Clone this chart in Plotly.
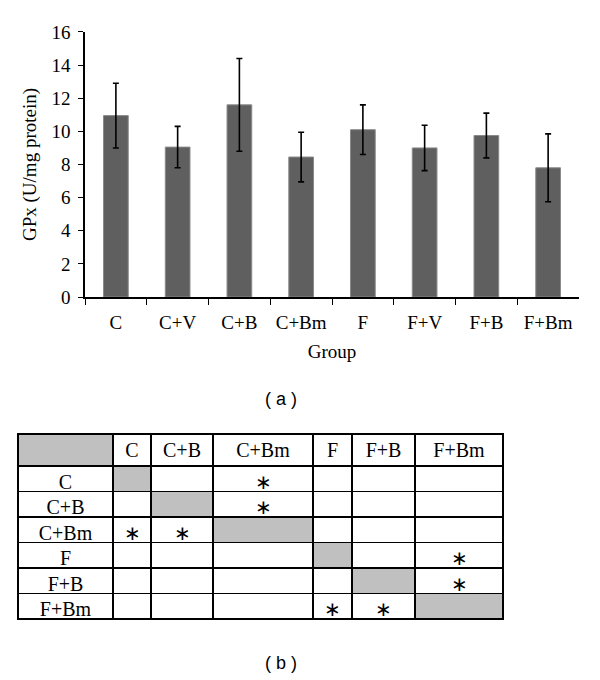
import plotly.graph_objects as go

# panel (a): GPx activity per group
groups = ["C", "C+V", "C+B", "C+Bm", "F", "F+V", "F+B", "F+Bm"]
gpx_mean = [10.95, 9.05, 11.6, 8.45, 10.1, 9.0, 9.75, 7.8]
gpx_sd = [1.95, 1.25, 2.8, 1.5, 1.5, 1.37, 1.35, 2.05]
y_ticks = [0, 2, 4, 6, 8, 10, 12, 14, 16]

# panel (b): significance table
tbl_groups = ["C", "C+B", "C+Bm", "F", "F+B", "F+Bm"]
sig_pairs = [("C", "C+Bm"), ("C+B", "C+Bm"), ("F", "F+Bm"), ("F+B", "F+Bm")]

serif = "Liberation Serif, Times New Roman, serif"
sans = "Liberation Sans, Arial, sans-serif"
gray_cell = "#c0c0c0"

fig = go.Figure()

fig.add_trace(go.Bar(
    x=groups, y=gpx_mean,
    marker=dict(color="#5f5f5f", line=dict(color="#8a8a8a", width=1)),
    error_y=dict(type="data", array=gpx_sd, color="black", thickness=1.6, width=3),
    showlegend=False,
))

# build table columns: first column holds the row labels
cols = [tbl_groups]
fills = [["white"] * len(tbl_groups)]
for cg in tbl_groups:
    col_txt, col_fill = [], []
    for rg in tbl_groups:
        if rg == cg:
            col_txt.append("")
            col_fill.append(gray_cell)
        elif (rg, cg) in sig_pairs or (cg, rg) in sig_pairs:
            col_txt.append("∗")
            col_fill.append("white")
        else:
            col_txt.append("")
            col_fill.append("white")
    cols.append(col_txt)
    fills.append(col_fill)

fig.add_trace(go.Table(
    domain=dict(x=[0.03, 0.84], y=[0.05, 0.362]),
    columnwidth=[95, 38, 62, 100, 39, 63, 88],
    header=dict(
        values=[""] + tbl_groups,
        fill=dict(color=[gray_cell] + ["white"] * len(tbl_groups)),
        line=dict(color="black", width=1.5),
        font=dict(family=serif, size=20, color="black"),
        align="center", height=32,
    ),
    cells=dict(
        values=cols,
        fill=dict(color=fills),
        line=dict(color="black", width=1.5),
        font=dict(family=serif, size=20, color="black"),
        align="center", height=25.5,
    ),
))

fig.update_layout(
    width=600, height=680,
    margin=dict(l=0, r=0, t=0, b=0),
    paper_bgcolor="white", plot_bgcolor="white",
    bargap=0.6,
    xaxis=dict(
        domain=[0.1417, 0.965], automargin=False,
        showline=True, linecolor="black", linewidth=1.5,
        ticks="outside", ticklen=6, tickcolor="black", tickson="boundaries",
        ticklabelstandoff=7,
        tickfont=dict(family=serif, size=19, color="black"),
        title=dict(text="Group", font=dict(family=serif, size=19, color="black"), standoff=13),
        showgrid=False,
    ),
    yaxis=dict(
        domain=[0.5632, 0.953], automargin=False,
        range=[0, 16], tickvals=y_ticks,
        showline=True, linecolor="black", linewidth=1.5,
        ticks="outside", ticklen=5, tickcolor="black",
        ticklabelstandoff=4,
        tickfont=dict(family=serif, size=19, color="black"),
        title=dict(text="GPx (U/mg protein)", font=dict(family=serif, size=19, color="black"), standoff=10),
        showgrid=False, zeroline=False,
    ),
    annotations=[
        dict(text="( a )", x=0.468, y=0.4132, xref="paper", yref="paper", showarrow=False,
             yanchor="middle", font=dict(family=sans, size=18, color="black")),
        dict(text="( b )", x=0.468, y=0.025, xref="paper", yref="paper", showarrow=False,
             yanchor="middle", font=dict(family=sans, size=18, color="black")),
    ],
)

# drop the browser's default 8px body margin so the figure sits at the page origin
fig.write_html("out.html", config={"displayModeBar": False},
               post_script="document.body.style.margin='0';")
